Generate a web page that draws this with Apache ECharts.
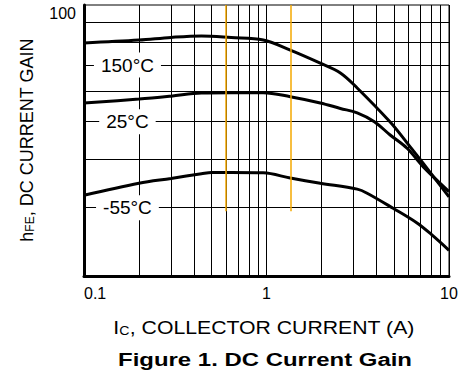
<!DOCTYPE html>
<html><head><meta charset="utf-8">
<script src="https://cdn.jsdelivr.net/npm/echarts@6/dist/echarts.min.js"></script>
<style>html,body{margin:0;padding:0;background:#fff}#c{width:471px;height:383px}</style>
</head><body><div id="c"></div>
<script>
// ---- data ----
const xTickValues = [0.1, 1, 10];
const xMinor = [0.2, 0.3, 0.4, 0.5, 0.6, 0.7, 0.8, 0.9, 2, 3, 4, 5, 6, 7, 8, 9];
const yMinor = [30, 40, 50, 60, 70, 80, 90];
const yTickLabel = '100';
const curve150 = [[0.1,79.8],[0.2,81.2],[0.3,82.5],[0.44,83.2],[0.64,82.4],[0.96,81.2],[1.35,76.5],[1.97,70.8],[2.54,66.8],[3.14,61.1],[4.76,49.9],[5.89,44.1],[7.21,39.1],[10,32.0]];
const curve25  = [[0.1,55.9],[0.2,57.2],[0.3,58.2],[0.44,59.3],[0.64,59.4],[0.96,59.4],[1.35,58.0],[1.97,55.9],[2.54,54.1],[3.14,52.7],[3.9,50.0],[4.76,46.2],[5.89,42.7],[7.21,38.3],[10,33.0]];
const curveM55 = [[0.1,32.3],[0.2,34.7],[0.3,35.7],[0.44,36.7],[0.5,37.0],[0.64,37.0],[0.96,36.9],[1.35,35.8],[1.97,34.7],[3.14,33.5],[3.56,32.7],[4.94,29.9],[6.68,27.4],[8,25.6],[10,23.3]];
const curveNames = ['150°C', '25°C', '-55°C'];
const curveLabelLevels = [70, 50, 30];
const markerX = [0.6, 1.35];
const markerRange = [29.4, 100];

const FONT = 'Liberation Sans, Arial, Helvetica, sans-serif';
const chart = echarts.init(document.getElementById('c'), null, {renderer: 'svg'});

const gridLines = xMinor.map(v => ({xAxis: v})).concat(yMinor.map(v => ({yAxis: v})));
const orangeLines = markerX.map(x => [{coord: [x, markerRange[1]]}, {coord: [x, markerRange[0]]}]);
const labelPoints = curveNames.map((n, i) => ({name: n, coord: [0.173, curveLabelLevels[i]]}));

function curveSeries(name, data, extra) {
  return Object.assign({
    name, type: 'line', data, smooth: 0.35, symbol: 'none', z: 3,
    lineStyle: {color: '#000', width: 3}, silent: true
  }, extra || {});
}

chart.setOption({
  animation: false,
  backgroundColor: '#fff',
  grid: {left: 84, right: 22, top: 5, bottom: 107, show: true, borderColor: '#000', borderWidth: 1, backgroundColor: 'transparent'},
  xAxis: {
    type: 'log', logBase: 10, min: xTickValues[0], max: xTickValues[xTickValues.length - 1],
    axisLine: {show: true, lineStyle: {color: '#000', width: 3}},
    axisTick: {show: false},
    axisLabel: {color: '#000', fontSize: 16, fontFamily: FONT, margin: 9, alignMinLabel: 'left'},
    splitLine: {show: true, lineStyle: {color: '#000', width: 1}}
  },
  yAxis: {
    type: 'log', logBase: 10, min: 20, max: 100,
    axisLine: {show: true, lineStyle: {color: '#000', width: 3}},
    axisTick: {show: false},
    splitLine: {show: false},
    axisLabel: {
      color: '#000', fontSize: 16, fontFamily: FONT, margin: 8, verticalAlign: 'top',
      formatter: v => (Math.abs(v - 100) < 1e-6 ? yTickLabel : '')
    }
  },
  series: [
    curveSeries(curveNames[0], curve150, {
      markLine: {silent: true, symbol: ['none', 'none'], z: 1, animation: false,
        label: {show: false}, lineStyle: {color: '#000', width: 1, type: 'solid'},
        emphasis: {disabled: true}, data: gridLines}
    }),
    curveSeries(curveNames[1], curve25, {
      markPoint: {silent: true, symbol: 'rect', symbolSize: 0, z: 10, animation: false,
        label: {show: true, position: 'inside', formatter: '{b}', color: '#000', fontSize: 19,
          fontFamily: FONT, backgroundColor: '#fff', padding: [3, 7]},
        data: labelPoints}
    }),
    curveSeries(curveNames[2], curveM55, {
      markLine: {silent: true, symbol: ['none', 'none'], z: 4, animation: false,
        label: {show: false}, lineStyle: {color: '#F5A800', width: 1.5, type: 'solid'},
        emphasis: {disabled: true}, data: orangeLines}
    })
  ],
  graphic: [
    {type: 'text', x: 27, y: 140, rotation: Math.PI / 2, silent: true,
      style: {text: '{n|h}{s|FE}{n|, DC CURRENT GAIN}', textAlign: 'center', textVerticalAlign: 'middle', fill: '#000',
        rich: {n: {fontSize: 18, fontFamily: FONT, fill: '#000', lineHeight: 18},
               s: {fontSize: 12, fontFamily: FONT, fill: '#000', verticalAlign: 'bottom'}}}},
    {type: 'text', x: 264, y: 328, scaleX: 1.18, silent: true,
      style: {text: '{n|I}{s|C}{n|, COLLECTOR CURRENT (A)}', textAlign: 'center', textVerticalAlign: 'middle', fill: '#000',
        rich: {n: {fontSize: 18, fontFamily: FONT, fill: '#000', lineHeight: 18},
               s: {fontSize: 12, fontFamily: FONT, fill: '#000', verticalAlign: 'bottom'}}}},
    {type: 'text', x: 265, y: 359, scaleX: 1.26, silent: true,
      style: {text: 'Figure 1. DC Current Gain', textAlign: 'center', textVerticalAlign: 'middle', fill: '#000',
        fontSize: 19, fontWeight: 'bold', fontFamily: FONT}}
  ]
});
</script></body></html>
